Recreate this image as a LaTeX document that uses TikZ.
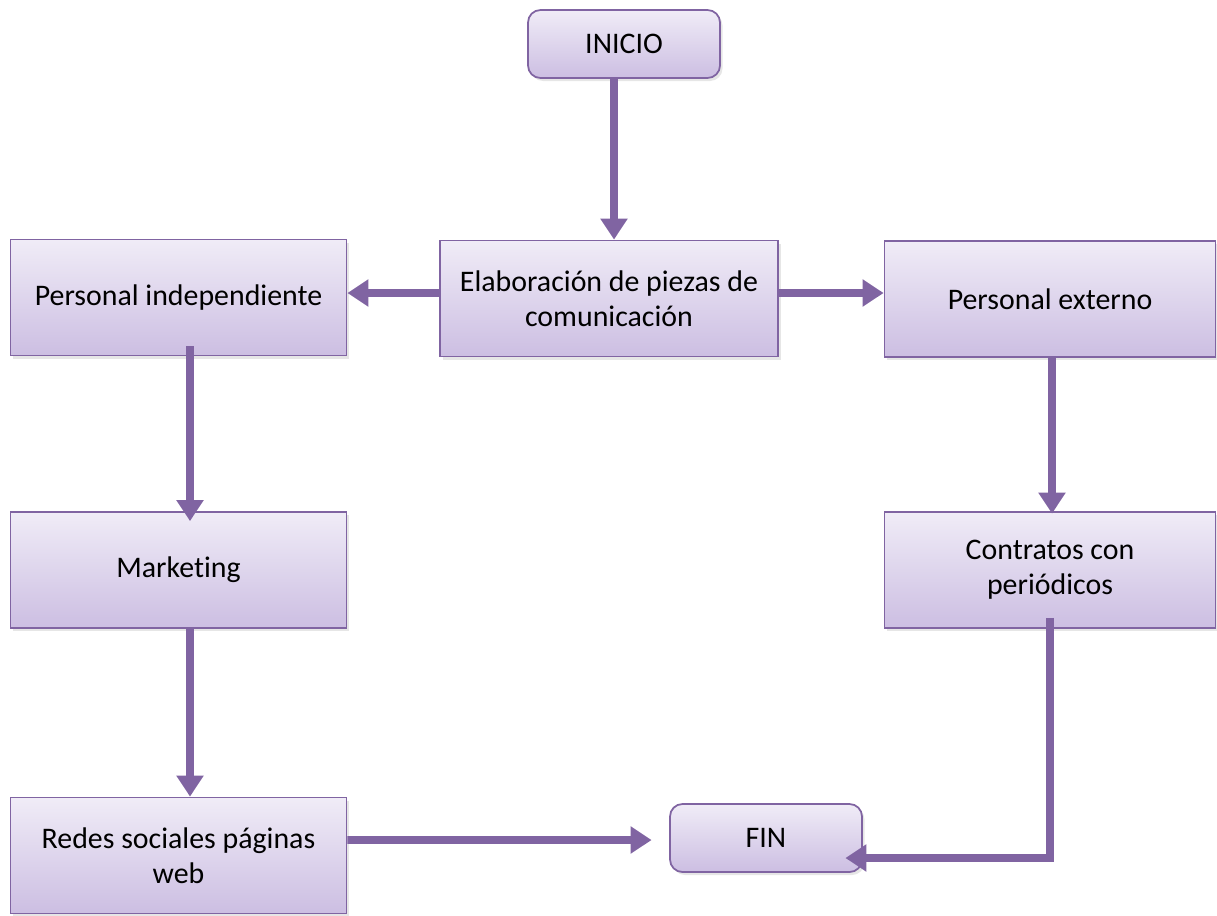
\documentclass[tikz,border=0pt]{standalone}
\usepackage{fontspec}
\setmainfont{Carlito}[Ligatures=NoCommon]
\usetikzlibrary{arrows.meta,shadows}
\definecolor{box edge}{HTML}{8064A2}
\definecolor{box top}{HTML}{F0ECF7}
\definecolor{box bottom}{HTML}{CCBEE2}
\definecolor{flow line}{HTML}{8064A2}
\tikzset{
  stepbox/.style={draw=box edge, line width=1pt, top color=box top, bottom color=box bottom,
    minimum width=6.72cm, minimum height=2.32cm, align=center, font=\fontsize{17}{20}\selectfont,
    drop shadow={opacity=0.2, shadow xshift=0.05cm, shadow yshift=-0.06cm}},
  endbox/.style={stepbox, rounded corners=0.25cm, minimum width=3.84cm, minimum height=1.36cm},
  flow/.style={draw=flow line, line width=4.5pt, -{Triangle[length=0.42cm,width=0.52cm]}}
  }
\begin{document}
\begin{tikzpicture}
  \useasboundingbox (0,0) rectangle (24.34,-18.3);

  % boxes
  \node[endbox] (inicio) at (12.48,-0.88) {INICIO};
  \node[stepbox, minimum width=6.76cm] (elab) at (12.18,-5.97) {Elaboración de piezas de\\comunicación};
  \node[stepbox] (pind) at (3.57,-5.95) {Personal independiente};
  \node[stepbox, minimum width=6.62cm] (pext) at (21.0,-5.98) {Personal externo};
  \node[stepbox] (mark) at (3.57,-11.4) {Marketing};
  \node[stepbox, minimum width=6.62cm] (contr) at (21.0,-11.4) {Contratos con\\periódicos};
  \node[stepbox] (redes) at (3.57,-17.11) {Redes sociales páginas\\web};
  \node[endbox] (fin) at (15.32,-16.76) {FIN};

  % connectors
  \draw[flow] ([xshift=-0.2cm]inicio.south) -- ([xshift=0.1cm]elab.north);
  \draw[flow] ([yshift=0.11cm]elab.west) -- ([yshift=0.09cm]pind.east);
  \draw[flow] ([yshift=0.11cm]elab.east) -- ([yshift=0.12cm]pext.west);
  \draw[flow] ([xshift=0.23cm,yshift=0.2cm]pind.south) -- ([xshift=0.23cm,yshift=-0.2cm]mark.north);
  \draw[flow] ([xshift=0.23cm]mark.south) -- ([xshift=0.23cm]redes.north);
  \draw[flow] ([xshift=0.04cm]pext.south) -- ([xshift=0.04cm,yshift=-0.05cm]contr.north);
  \draw[flow] ([yshift=0.31cm]redes.east) -- ([xshift=-0.35cm,yshift=-0.04cm]fin.west);
  \draw[flow] ([yshift=0.22cm]contr.south) |- ([xshift=-0.35cm,yshift=-0.4cm]fin.east);

\end{tikzpicture}
\end{document}
